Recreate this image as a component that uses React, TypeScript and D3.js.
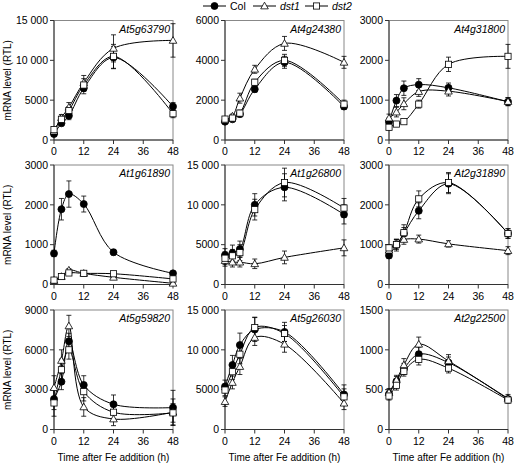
import React from "react";
import * as d3 from "d3";

const times = [0, 3, 6, 12, 24, 48];
const xTicks = [0, 12, 24, 36, 48];
const genes = ["At5g63790", "At4g24380", "At4g31800", "At1g61890", "At1g26800", "At2g31890", "At5g59820", "At5g26030", "At2g22500"];
const yMax = [15000, 6000, 3000, 3000, 15000, 3000, 9000, 15000, 1500];
const yStep = [5000, 2000, 1000, 1000, 5000, 1000, 3000, 5000, 500];

const colValues = [
  [750, 2100, 3050, 6500, 10350, 4200],
  [920, 1040, 1300, 2550, 3900, 1680],
  [450, 990, 1300, 1390, 1310, 960],
  [780, 1890, 2270, 2020, 810, 280],
  [3700, 3950, 4450, 10000, 12200, 8800],
  [730, 990, 1280, 1850, 2530, 1280],
  [2300, 3600, 6650, 3350, 1900, 1650],
  [5400, 8100, 10600, 12550, 12250, 4400],
  [445, 605, 760, 945, 840, 380],
];
const colErr = [
  [300, 300, 500, 700, 1400, 500],
  [100, 100, 150, 150, 300, 150],
  [100, 150, 180, 150, 120, 100],
  [80, 270, 330, 200, 70, 30],
  [800, 1000, 1000, 1400, 1700, 1200],
  [80, 150, 150, 200, 250, 120],
  [800, 600, 600, 700, 700, 1300],
  [800, 1200, 1500, 1500, 1200, 1200],
  [50, 60, 70, 90, 70, 40],
];
const dst1Values = [
  [1100, 2800, 4100, 7200, 11500, 12500],
  [1000, 1200, 2100, 3550, 4850, 3900],
  [550, 700, 910, 1215, 1225, 965],
  [100, 200, 360, 280, 180, 30],
  [3000, 2800, 2800, 2600, 3400, 4600],
  [860, 1030, 1130, 1140, 1020, 850],
  [3150, 5200, 7800, 1700, 790, 1300],
  [3500, 5900, 7900, 11550, 10700, 3300],
  [465, 620, 810, 1070, 860, 390],
];
const dst1Err = [
  [300, 400, 600, 900, 1700, 2100],
  [100, 100, 250, 200, 350, 300],
  [100, 120, 150, 120, 120, 100],
  [20, 30, 40, 30, 20, 10],
  [700, 600, 600, 600, 800, 1000],
  [80, 100, 120, 100, 80, 100],
  [900, 800, 800, 700, 500, 1000],
  [600, 800, 1000, 1000, 1000, 800],
  [50, 60, 80, 90, 80, 50],
];
const dst2Values = [
  [1300, 2600, 3700, 6900, 10500, 3300],
  [1050, 1100, 1350, 2900, 4000, 1800],
  [320, 400, 460, 900, 1900, 2100],
  [110, 200, 290, 280, 270, 140],
  [3300, 3600, 4000, 9400, 12800, 9600],
  [920, 1000, 1300, 2150, 2560, 1280],
  [2000, 4500, 6000, 2850, 1300, 1250],
  [4950, 7250, 9450, 12800, 12050, 4100],
  [420, 555, 730, 880, 770, 370],
];
const dst2Err = [
  [300, 400, 500, 800, 1500, 500],
  [100, 100, 150, 150, 300, 200],
  [60, 50, 50, 100, 180, 300],
  [20, 30, 40, 30, 30, 20],
  [800, 800, 1000, 1300, 1800, 1200],
  [80, 120, 200, 200, 250, 120],
  [1000, 800, 700, 700, 500, 700],
  [700, 1000, 1200, 1300, 1000, 1000],
  [50, 60, 60, 70, 60, 40],
];
const legendLabels = ["Col", "dst1", "dst2"];

const colLefts = [54, 225, 389];
const rowTops = [20.5, 165, 310];
const W = 119;
const H = 119.5;
const FONT = "'Liberation Sans', Arial, sans-serif";

const fmt = (v: number) => {
  if (v >= 10000) {
    const s = String(v);
    return s.slice(0, s.length - 3) + " " + s.slice(s.length - 3);
  }
  return String(v);
};

function Marker({ type, x, y }: { type: number; x: number; y: number }) {
  if (type === 0) return <circle cx={x} cy={y} r={3.5} fill="#000" stroke="#000" strokeWidth={0.8} />;
  if (type === 1) {
    const s = 3.8;
    return (
      <path
        d={`M${x},${y - s}L${x + s},${y + s * 0.75}L${x - s},${y + s * 0.75}Z`}
        fill="#fff"
        stroke="#000"
        strokeWidth={0.8}
      />
    );
  }
  return <rect x={x - 3.1} y={y - 3.1} width={6.2} height={6.2} fill="#fff" stroke="#000" strokeWidth={0.8} />;
}

function Panel({ idx }: { idx: number }) {
  const r = Math.floor(idx / 3);
  const c = idx % 3;
  const left = colLefts[c];
  const top = rowTops[r];
  const x = d3.scaleLinear().domain([0, 48]).range([left, left + W]);
  const y = d3.scaleLinear().domain([0, yMax[idx]]).range([top + H, top]);
  const yTicks = d3.range(0, yMax[idx] + 1, yStep[idx]);
  const line = d3
    .line<number>()
    .x((_, i) => x(times[i]))
    .y((v) => y(v))
    .curve(d3.curveCatmullRom.alpha(0.5));
  const series = [
    { v: colValues[idx], e: colErr[idx] },
    { v: dst1Values[idx], e: dst1Err[idx] },
    { v: dst2Values[idx], e: dst2Err[idx] },
  ];
  return (
    <g>
      <rect x={left} y={top} width={W} height={H} fill="none" stroke="#888" strokeWidth={1} />
      <line x1={left} x2={left} y1={top} y2={top + H} stroke="#333" />
      <line x1={left} x2={left + W} y1={top + H} y2={top + H} stroke="#333" />
      {yTicks.map((t) => (
        <g key={"y" + t}>
          <line x1={left - 4} x2={left} y1={y(t)} y2={y(t)} stroke="#333" />
          <text x={left - 6} y={y(t)} dy="0.35em" textAnchor="end" fontSize={10.5} fontFamily={FONT} fill="#000">
            {fmt(t)}
          </text>
        </g>
      ))}
      {xTicks.map((t) => (
        <g key={"x" + t}>
          <line x1={x(t)} x2={x(t)} y1={top + H} y2={top + H + 4} stroke="#333" />
          <text x={x(t)} y={top + H + 15} textAnchor="middle" fontSize={10.5} fontFamily={FONT} fill="#000">
            {t}
          </text>
        </g>
      ))}
      {series.map((s, si) =>
        s.v.map((v, i) => {
          const xx = x(times[i]);
          const y1 = y(v + s.e[i]);
          const y2 = y(Math.max(0, v - s.e[i]));
          return (
            <g key={`e${si}-${i}`} stroke="#000" strokeWidth={0.8}>
              <line x1={xx} x2={xx} y1={y1} y2={y2} />
              <line x1={xx - 2.5} x2={xx + 2.5} y1={y1} y2={y1} />
              <line x1={xx - 2.5} x2={xx + 2.5} y1={y2} y2={y2} />
            </g>
          );
        })
      )}
      {series.map((s, si) => (
        <path key={"l" + si} d={line(s.v) || ""} fill="none" stroke="#000" strokeWidth={1} />
      ))}
      {series.map((s, si) =>
        s.v.map((v, i) => <Marker key={`m${si}-${i}`} type={si} x={x(times[i])} y={y(v)} />)
      )}
      <text x={left + W - 3} y={top + 12} textAnchor="end" fontSize={10.5} fontStyle="italic" fontFamily={FONT}>
        {genes[idx]}
      </text>
      {c === 0 && (
        <text
          transform={`translate(${11},${top + H / 2}) rotate(-90)`}
          textAnchor="middle"
          fontSize={10}
          fontFamily={FONT}
        >
          mRNA level (RTL)
        </text>
      )}
      {r === 2 && (
        <text x={left + W / 2} y={top + H + 31} textAnchor="middle" fontSize={10} fontFamily={FONT}>
          Time after Fe addition (h)
        </text>
      )}
    </g>
  );
}

function Legend() {
  const items = [
    { lx: 203, tx: 230 },
    { lx: 253, tx: 280 },
    { lx: 305, tx: 332 },
  ];
  const yy = 6;
  return (
    <g>
      {items.map((it, i) => (
        <g key={i}>
          <line x1={it.lx} x2={it.lx + 23} y1={yy} y2={yy} stroke="#000" />
          <Marker type={i} x={it.lx + 11.5} y={yy} />
          <text x={it.tx} y={yy} dy="0.35em" fontSize={10.5} fontFamily={FONT} fontStyle={i === 0 ? "normal" : "italic"}>
            {legendLabels[i]}
          </text>
        </g>
      ))}
    </g>
  );
}

export default function App() {
  return (
    <svg width={515} height={463} style={{ position: "absolute", left: 0, top: 0, background: "#fff" }}>
      <Legend />
      {genes.map((_, i) => (
        <Panel key={i} idx={i} />
      ))}
    </svg>
  );
}
